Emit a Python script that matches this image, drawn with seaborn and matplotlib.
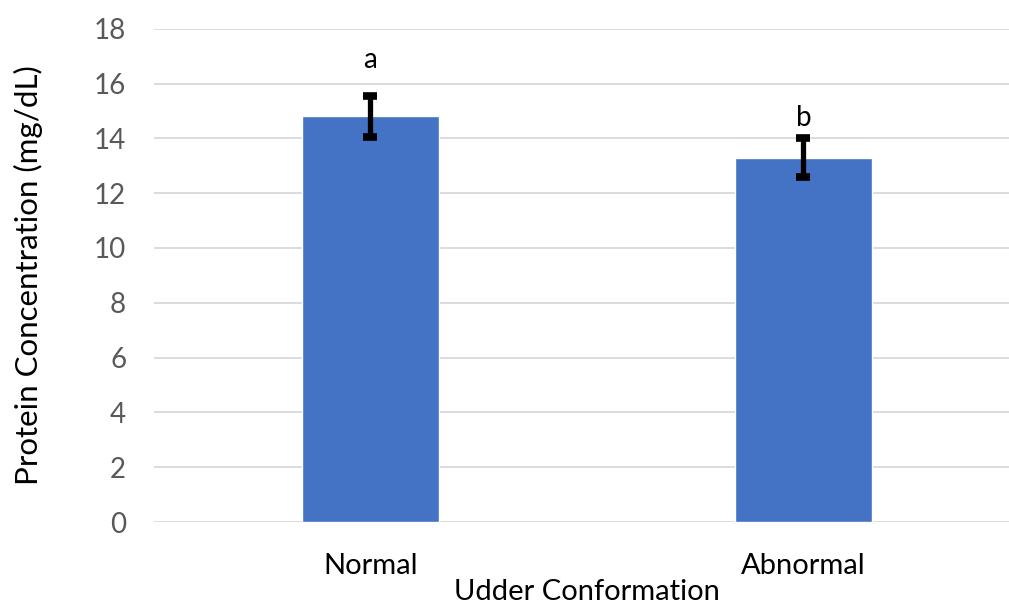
import matplotlib
matplotlib.use("Agg")
import matplotlib.pyplot as plt
import seaborn as sns
import pandas as pd

categories = ["Normal", "Abnormal"]
means = [14.81, 13.3]
errors = [0.75, 0.71]
letters = ["a", "b"]
letter_y = [16.85, 14.75]
yticks = [0, 2, 4, 6, 8, 10, 12, 14, 16, 18]

sns.set_theme(style="white")
plt.rcParams['font.family'] = ['Lato', 'DejaVu Sans']

df = pd.DataFrame({"cat": categories, "val": means})

fig = plt.figure(figsize=(10.09, 6.05), dpi=100)
ax = fig.add_axes([0.1526, 0.137, 0.8583, 0.8156])

sns.barplot(data=df, x="cat", y="val", color="#4472C4", saturation=1,
            width=0.316, ax=ax, zorder=3)
ax.errorbar(range(len(categories)), means, yerr=errors, fmt="none",
            ecolor="black", elinewidth=3.8, capsize=4.7, capthick=5.5, zorder=4)
for i, (t, y) in enumerate(zip(letters, letter_y)):
    ax.text(i, y, t, ha="center", va="center", fontsize=20, color="black")

ax.set_xlim(-0.5, 1.5)
ax.set_ylim(0, 18)
ax.set_yticks(yticks)
ax.set_yticklabels([str(v) for v in yticks], fontsize=20, color="#595959")
ax.tick_params(axis="x", labelsize=21, colors="black", length=0, pad=22)
ax.tick_params(axis="y", length=0, pad=20)
ax.yaxis.grid(True, color="#D9D9D9", linewidth=1.3, zorder=0)
ax.set_axisbelow(True)
for s in ["top", "right", "left", "bottom"]:
    ax.spines[s].set_visible(False)

ax.set_xlabel("Udder Conformation", fontsize=21, color="black", labelpad=0.5)
ax.set_ylabel("Protein Concentration (mg/dL)", fontsize=22.5, color="black", labelpad=37)

fig.savefig("out.png", dpi=100)
